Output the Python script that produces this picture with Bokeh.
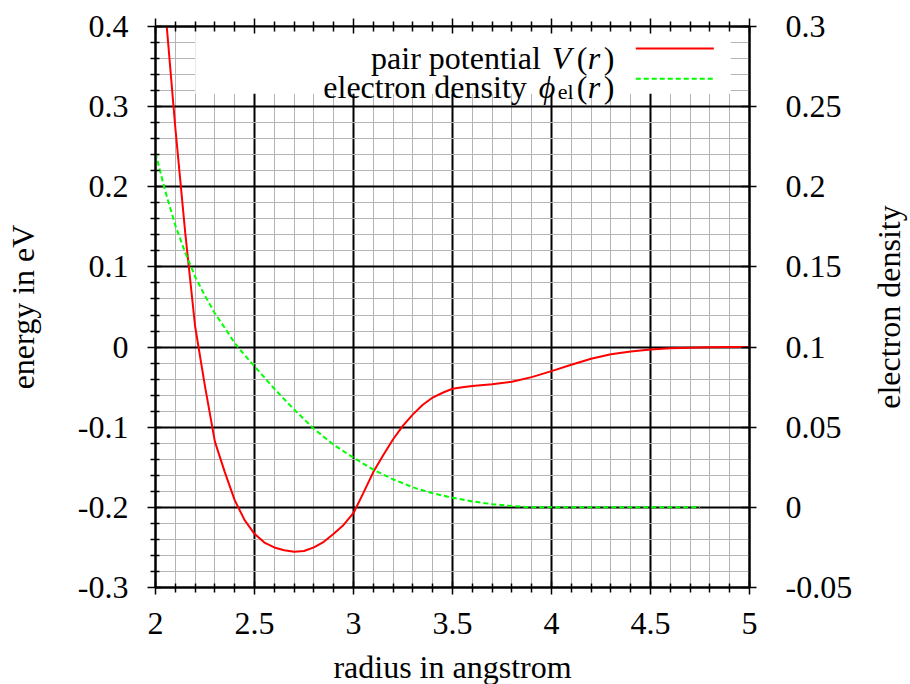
import math
from bokeh.plotting import figure
from bokeh.models import (Range1d, LinearAxis, FixedTicker, BoxAnnotation, Label,
                          Arrow, CustomJSTickFormatter)
from bokeh.embed import file_html
from bokeh.resources import INLINE

# ---- data ------------------------------------------------------------------
r_pair = [2.00, 2.05, 2.10, 2.15, 2.20, 2.25, 2.30, 2.35, 2.40, 2.45, 2.50, 2.55,
          2.60, 2.65, 2.70, 2.75, 2.80, 2.85, 2.90, 2.95, 3.00, 3.05, 3.10, 3.15,
          3.20, 3.25, 3.30, 3.35, 3.40, 3.45, 3.50, 3.55, 3.60, 3.70, 3.80, 3.90,
          4.00, 4.10, 4.20, 4.30, 4.40, 4.50, 4.60, 4.70, 4.80, 4.90, 5.00]
v_pair = [0.570, 0.420, 0.274, 0.143, 0.026, -0.049, -0.118, -0.156, -0.191, -0.216,
          -0.233, -0.244, -0.250, -0.2535, -0.2555, -0.2545, -0.250, -0.243, -0.233,
          -0.222, -0.207, -0.182, -0.156, -0.135, -0.115, -0.098, -0.084, -0.072,
          -0.063, -0.057, -0.052, -0.050, -0.0485, -0.0463, -0.0433, -0.0375, -0.030,
          -0.022, -0.0145, -0.009, -0.0055, -0.003, -0.0015, -0.0008, -0.0003, 0.0, 0.0]

r_dens = [2.00, 2.05, 2.10, 2.15, 2.20, 2.25, 2.30, 2.35, 2.40, 2.45, 2.50, 2.60,
          2.70, 2.80, 2.90, 3.00, 3.10, 3.20, 3.30, 3.40, 3.50, 3.60, 3.70, 3.80,
          3.90, 4.00, 4.25, 4.50, 4.75]
dens = [0.221, 0.197, 0.176, 0.159, 0.144, 0.132, 0.121, 0.112, 0.1025, 0.095, 0.088,
        0.074, 0.061, 0.049, 0.039, 0.031, 0.0235, 0.0175, 0.0125, 0.0088, 0.006,
        0.0037, 0.002, 0.0008, 0.0, 0.0, 0.0, 0.0, 0.0]

x_ticks = [2.0, 2.5, 3.0, 3.5, 4.0, 4.5, 5.0]
x_tick_labels = ["2", "2.5", "3", "3.5", "4", "4.5", "5"]
x_minor = [2.1, 2.2, 2.3, 2.4, 2.6, 2.7, 2.8, 2.9, 3.1, 3.2, 3.3, 3.4, 3.6, 3.7,
           3.8, 3.9, 4.1, 4.2, 4.3, 4.4, 4.6, 4.7, 4.8, 4.9]
y_ticks = [-0.3, -0.2, -0.1, 0.0, 0.1, 0.2, 0.3, 0.4]
y_tick_labels = ["-0.3", "-0.2", "-0.1", "0", "0.1", "0.2", "0.3", "0.4"]
y_minor = [round(-0.3 + 0.02 * i, 2) for i in range(1, 35) if i % 5]
y2_ticks = [-0.05, 0.0, 0.05, 0.1, 0.15, 0.2, 0.25, 0.3]
y2_tick_labels = ["-0.05", "0", "0.05", "0.1", "0.15", "0.2", "0.25", "0.3"]

FONT = "Liberation Serif"
FS = "32px"

# picture-pixel -> data helpers for annotation placement
def dx(px):
    return 2 + (px - 154.7) / 198.0

def dy(py):
    return (346.7 - py) / 802.0

p = figure(frame_width=594, frame_height=561,
           x_range=Range1d(2, 5), y_range=Range1d(-0.3, 0.4),
           output_backend="svg", toolbar_location=None,
           min_border_left=155, min_border_right=161,
           min_border_top=26, min_border_bottom=97,
           background_fill_color="white", border_fill_color="white")
p.extra_y_ranges = {"right": Range1d(-0.05, 0.3)}
p.outline_line_color = "black"
p.outline_line_width = 2

xt = FixedTicker(ticks=x_ticks, minor_ticks=x_minor)
yt = FixedTicker(ticks=y_ticks, minor_ticks=y_minor)
p.xaxis.ticker = xt
p.yaxis.ticker = yt
p.xaxis.major_label_overrides = dict(zip(x_ticks, x_tick_labels))
p.yaxis.major_label_overrides = dict(zip(y_ticks, y_tick_labels))

def style_axis(ax, tout, tin, mout, min_):
    ax.axis_line_color = "black"
    ax.axis_line_width = 2
    ax.major_tick_line_color = "black"
    ax.major_tick_line_width = 1.5
    ax.minor_tick_line_color = "black"
    ax.minor_tick_line_width = 1.5
    ax.major_tick_out = tout
    ax.major_tick_in = tin
    ax.minor_tick_out = mout
    ax.minor_tick_in = min_
    ax.major_label_text_font = FONT
    ax.major_label_text_font_size = FS
    ax.major_label_text_color = "black"
    ax.axis_label_text_font = FONT
    ax.axis_label_text_font_size = FS
    ax.axis_label_text_font_style = "normal"
    ax.axis_label_text_color = "black"

xa = p.xaxis[0]
ya = p.yaxis[0]
style_axis(xa, 7, 6, 5, 4)
style_axis(ya, 8, 6, 5, 4)
xa.axis_label = "radius in angstrom"
xa.major_label_standoff = 18
xa.axis_label_standoff = 12
ya.axis_label = "energy in eV"
ya.major_label_standoff = 19
ya.axis_label_standoff = 34

top = LinearAxis(ticker=FixedTicker(ticks=x_ticks, minor_ticks=x_minor),
                 formatter=CustomJSTickFormatter(code="return ''"))
style_axis(top, 8, 7, 5, 5)
p.add_layout(top, "above")

right = LinearAxis(y_range_name="right", ticker=FixedTicker(ticks=y2_ticks))
style_axis(right, 7, 8, 0, 0)
right.major_label_overrides = dict(zip(y2_ticks, y2_tick_labels))
right.major_label_standoff = 29
p.add_layout(right, "right")

# right-hand title, reading bottom-to-top, placed in the right side panel
p.add_layout(Label(x=dx(888), y=0.05, text="electron density", angle=math.pi / 2,
                   text_font=FONT, text_font_size=FS, text_align="center",
                   text_baseline="alphabetic", text_color="black"), "right")

for g in (p.xgrid[0], p.ygrid[0]):
    g.grid_line_color = "black"
    g.grid_line_width = 2
    g.minor_grid_line_color = "#b4b4b4"
    g.minor_grid_line_width = 1

# curves
p.line(r_pair, v_pair, line_color="#ff0000", line_width=2)
p.line(r_dens, dens, y_range_name="right", line_color="#00ff00", line_width=2,
       line_dash="5 3")

# key box (gnuplot style: text then sample)
box = BoxAnnotation(left=dx(194.5), right=dx(730), bottom=dy(93.3), top=0.4,
                    fill_color="white", fill_alpha=1.0, line_color=None,
                    level="underlay")
p.add_layout(box)

def lab(text, px, py, align="left", style="normal", size=FS):
    p.add_layout(Label(x=dx(px), y=dy(py), text=text, text_font=FONT,
                       text_font_size=size, text_font_style=style,
                       text_align=align, text_baseline="alphabetic",
                       text_color="black"))

lab("pair potential", 540, 57, align="right")
lab("V", 551, 57, style="italic")
lab("(", 576, 57)
lab("r", 587, 57, style="italic")
lab(")", 603, 57)

lab("electron density", 526, 86, align="right")
lab("\u03d5", 538, 86, style="italic")
lab("el", 557, 91, size="22px")
lab("(", 576, 86)
lab("r", 587, 86, style="italic")
lab(")", 603, 86)

p.add_layout(Arrow(end=None, x_start=dx(635), y_start=dy(48), x_end=dx(713), y_end=dy(48),
                   line_color="#ff0000", line_width=2))
p.add_layout(Arrow(end=None, x_start=dx(635), y_start=dy(78.3), x_end=dx(712), y_end=dy(78.3),
                   line_color="#00ff00", line_width=2, line_dash="5 3"))

open("out.html", "w").write(file_html(p, INLINE))
